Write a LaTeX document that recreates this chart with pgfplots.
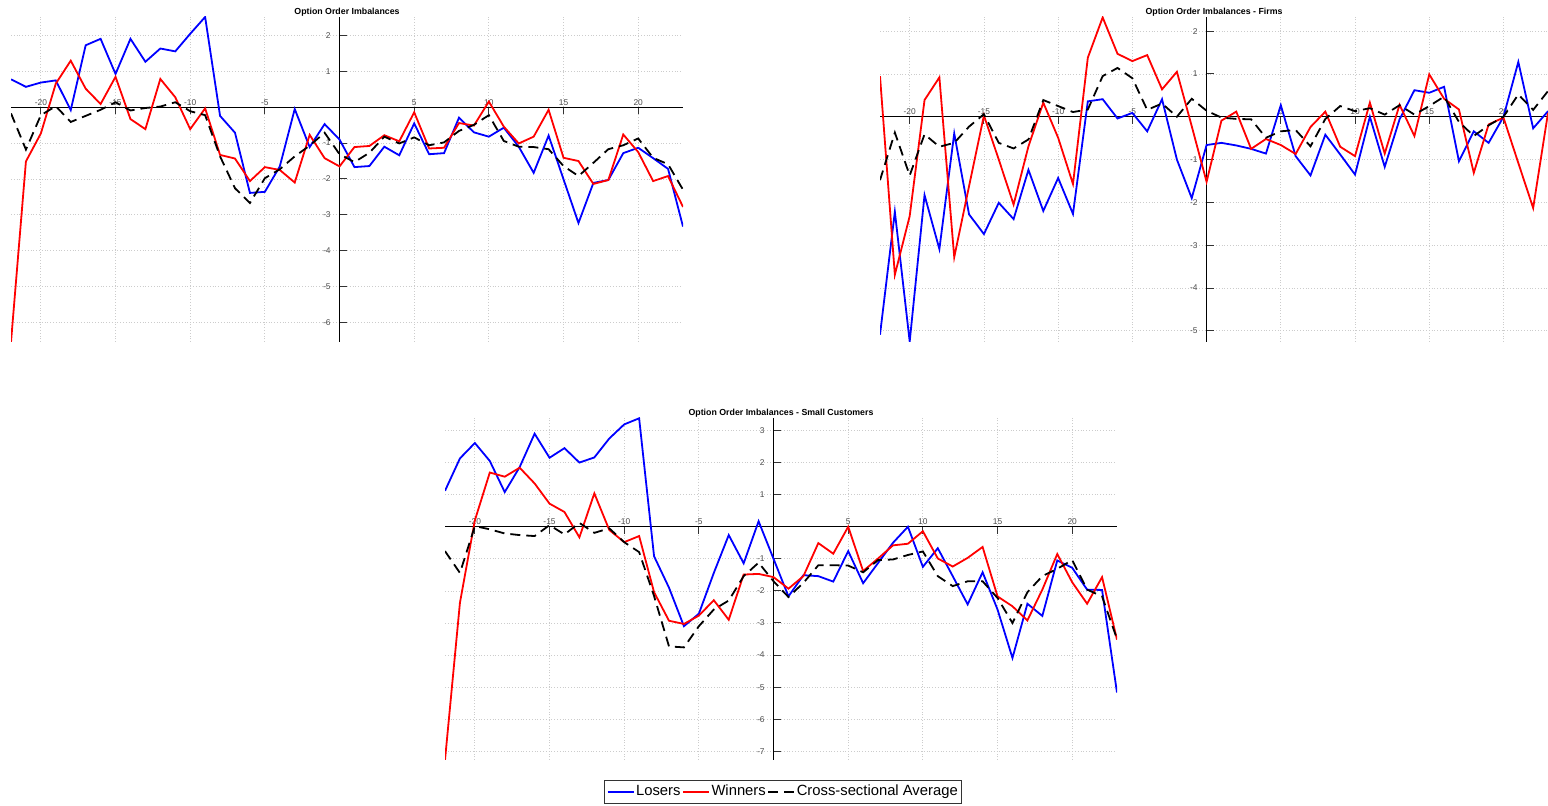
\documentclass[border=0pt]{standalone}
\usepackage{fontspec}
\setmainfont{Liberation Sans}
\usepackage{pgfplots}
\usepackage{pgfplotstable}
\pgfplotsset{compat=1.18}

\pgfplotstableread{
x L W A
-22 0.78 -6.55 -0.17
-21 0.57 -1.51 -1.18
-20 0.69 -0.73 -0.22
-19 0.75 0.66 0.03
-18 -0.08 1.30 -0.41
-17 1.73 0.52 -0.24
-16 1.91 0.09 -0.07
-15 0.93 0.85 0.14
-14 1.91 -0.33 -0.09
-13 1.27 -0.61 -0.02
-12 1.64 0.79 0.02
-11 1.56 0.28 0.14
-10 2.05 -0.61 -0.11
-9 2.52 -0.03 -0.22
-8 -0.24 -1.33 -1.37
-7 -0.71 -1.43 -2.26
-6 -2.39 -2.06 -2.67
-5 -2.36 -1.67 -1.98
-4 -1.65 -1.75 -1.73
-3 -0.05 -2.10 -1.37
-2 -1.11 -0.77 -1.07
-1 -0.47 -1.42 -0.71
0 -0.90 -1.65 -1.31
1 -1.67 -1.11 -1.53
2 -1.64 -1.08 -1.27
3 -1.10 -0.78 -0.82
4 -1.34 -0.95 -1.01
5 -0.45 -0.14 -0.84
6 -1.31 -1.15 -1.06
7 -1.28 -1.13 -0.98
8 -0.29 -0.44 -0.66
9 -0.70 -0.51 -0.49
10 -0.82 0.16 -0.22
11 -0.57 -0.54 -0.94
12 -1.10 -1.01 -1.10
13 -1.83 -0.82 -1.11
14 -0.79 -0.07 -1.17
15 -2.01 -1.41 -1.64
16 -3.23 -1.50 -1.92
17 -2.11 -2.14 -1.55
18 -2.03 -2.03 -1.17
19 -1.28 -0.76 -1.06
20 -1.13 -1.25 -0.87
21 -1.42 -2.06 -1.41
22 -1.72 -1.92 -1.59
23 -3.33 -2.78 -2.30
}\tA

\pgfplotstableread{
x L W A
-22 -5.09 0.95 -1.48
-21 -2.22 -3.69 -0.37
-20 -5.25 -2.32 -1.37
-19 -1.83 0.39 -0.41
-18 -3.09 0.92 -0.70
-17 -0.39 -3.28 -0.61
-16 -2.28 -1.62 -0.23
-15 -2.74 0.03 0.06
-14 -2.01 -1.00 -0.61
-13 -2.39 -2.05 -0.74
-12 -1.24 -0.69 -0.53
-11 -2.20 0.33 0.39
-10 -1.43 -0.49 0.25
-9 -2.27 -1.57 0.11
-8 0.36 1.38 0.17
-7 0.41 2.32 0.95
-6 -0.04 1.47 1.14
-5 0.09 1.30 0.90
-4 -0.34 1.44 0.16
-3 0.41 0.64 0.31
-2 -1.00 1.05 0.00
-1 -1.90 -0.22 0.42
0 -0.66 -1.52 0.14
1 -0.61 -0.09 -0.02
2 -0.67 0.12 -0.05
3 -0.75 -0.75 -0.06
4 -0.86 -0.52 -0.49
5 0.27 -0.66 -0.34
6 -0.92 -0.87 -0.31
7 -1.37 -0.24 -0.69
8 -0.42 0.12 -0.05
9 -0.88 -0.70 0.25
10 -1.35 -0.92 0.13
11 0.00 0.33 0.20
12 -1.17 -0.86 0.05
13 -0.06 0.28 0.27
14 0.62 -0.45 0.05
15 0.56 0.99 0.25
16 0.70 0.42 0.47
17 -1.04 0.17 -0.12
18 -0.34 -1.31 -0.45
19 -0.61 -0.18 -0.20
20 0.00 -0.02 0.00
21 1.28 -1.08 0.52
22 -0.27 -2.13 0.16
23 0.13 0.09 0.60
}\tB

\pgfplotstableread{
x L W A
-22 1.12 -7.27 -0.76
-21 2.13 -2.37 -1.44
-20 2.61 0.20 0.02
-19 2.05 1.69 -0.08
-18 1.08 1.56 -0.21
-17 1.86 1.84 -0.26
-16 2.90 1.35 -0.29
-15 2.15 0.72 0.05
-14 2.45 0.46 -0.24
-13 2.00 -0.33 0.12
-12 2.16 1.04 -0.19
-11 2.75 -0.10 -0.05
-10 3.19 -0.48 -0.48
-9 3.38 -0.29 -0.79
-8 -0.92 -2.04 -2.16
-7 -1.90 -2.93 -3.73
-6 -3.10 -3.03 -3.76
-5 -2.71 -2.77 -3.10
-4 -1.44 -2.29 -2.58
-3 -0.26 -2.90 -2.30
-2 -1.14 -1.49 -1.54
-1 0.17 -1.47 -1.12
0 -1.00 -1.57 -1.70
1 -2.17 -1.93 -2.19
2 -1.51 -1.54 -1.75
3 -1.54 -0.51 -1.20
4 -1.71 -0.84 -1.20
5 -0.76 0.00 -1.21
6 -1.76 -1.38 -1.42
7 -1.13 -0.99 -1.04
8 -0.50 -0.58 -1.02
9 0.00 -0.53 -0.88
10 -1.25 -0.14 -0.77
11 -0.67 -0.99 -1.54
12 -1.54 -1.24 -1.85
13 -2.42 -0.97 -1.70
14 -1.42 -0.63 -1.70
15 -2.58 -2.17 -2.22
16 -4.09 -2.48 -3.00
17 -2.40 -2.92 -2.04
18 -2.78 -1.96 -1.54
19 -1.05 -0.85 -1.31
20 -1.28 -1.73 -1.04
21 -1.96 -2.40 -1.96
22 -1.97 -1.57 -2.17
23 -5.17 -3.52 -3.50
}\tC

\pgfplotsset{
  panel/.style={
    scale only axis,
    anchor=south west,
    axis lines=middle,
    axis line style={-, black, line width=0.6pt},
    xmin=-22, xmax=23,
    xtick={-20,-15,-10,-5,5,10,15,20},
    grid=major,
    grid style={densely dotted, black!20, line width=0.4pt},
    /pgf/number format/assume math mode=true,
    tick label style={font=\fontsize{4.2}{5}\selectfont, text=black!70},
    xticklabel style={anchor=south, yshift=1pt},
    yticklabel style={anchor=east, xshift=-1pt},
    xtick align=outside, ytick align=inside,
    major tick length=3.5pt,
    tick style={black!80, line width=0.5pt},
    every axis title shift=0pt,
    title style={font=\bfseries\fontsize{4.4}{5}\selectfont, at={(0.5,1)}, anchor=base, yshift=1.2pt},
    legend image code/.code={\draw[#1] (0pt,0pt) -- (13pt,0pt);},
  },
  L/.style={blue, line width=0.9pt},
  W/.style={red, line width=0.9pt},
  A/.style={black, line width=0.9pt, dash pattern=on 5pt off 3pt},
}

\begin{document}
\begin{tikzpicture}
\useasboundingbox (0,0) rectangle (774pt,403pt);

\begin{axis}[panel, at={(5.5pt,232pt)}, width=336pt, height=162.5pt,
  ymin=-6.55, ymax=2.52, ytick={-6,-5,-4,-3,-2,-1,1,2},
  title={Option Order Imbalances}]
\addplot[L] table[x=x,y=L]{\tA};
\addplot[W] table[x=x,y=W]{\tA};
\addplot[A] table[x=x,y=A]{\tA};
\end{axis}

\begin{axis}[panel, at={(440pt,232pt)}, width=334pt, height=162.5pt,
  ymin=-5.26, ymax=2.33, ytick={-5,-4,-3,-2,-1,1,2},
  title={Option Order Imbalances - Firms}]
\addplot[L] table[x=x,y=L]{\tB};
\addplot[W] table[x=x,y=W]{\tB};
\addplot[A] table[x=x,y=A]{\tB};
\end{axis}

\begin{axis}[panel, at={(222.5pt,23pt)}, width=336pt, height=171pt,
  ymin=-7.27, ymax=3.39, ytick={-7,-6,-5,-4,-3,-2,-1,1,2,3},
  title={Option Order Imbalances - Small Customers},
  legend columns=3,
  legend style={at={(0.503,-0.0936)}, anchor=center, draw=black!80, line width=0.4pt,
    font=\fontsize{7.4}{9}\selectfont, inner sep=1pt,
    nodes={inner xsep=0.8pt, inner ysep=1.5pt},
    /tikz/every odd column/.append style={column sep=0pt},
    /tikz/every even column/.append style={column sep=0pt},
    cells={anchor=west}}]
\addplot[L] table[x=x,y=L]{\tC};
\addlegendentry{Losers}
\addplot[W] table[x=x,y=W]{\tC};
\addlegendentry{Winners}
\addplot[A] table[x=x,y=A]{\tC};
\addlegendentry{Cross-sectional Average}
\end{axis}
\end{tikzpicture}
\end{document}
